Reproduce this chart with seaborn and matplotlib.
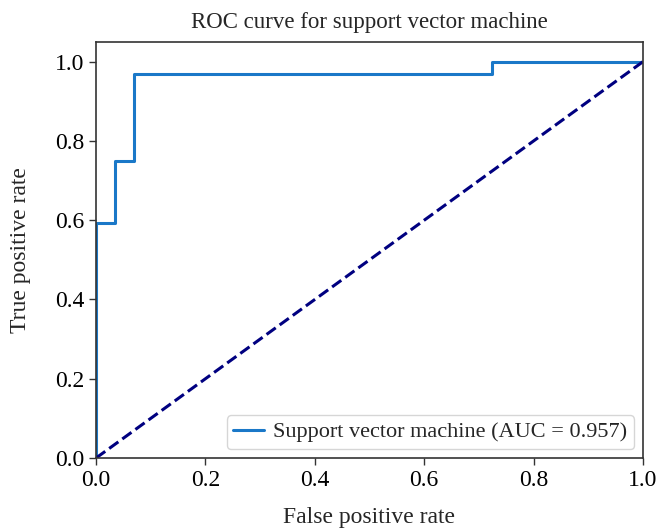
import matplotlib
matplotlib.use("Agg")
import matplotlib.pyplot as plt
import seaborn as sns
import pandas as pd

fpr = [0.0, 0.0, 0.034, 0.034, 0.069, 0.069, 0.724, 0.724, 1.0]
tpr = [0.0, 0.594, 0.594, 0.75, 0.75, 0.969, 0.969, 1.0, 1.0]
diag_x = [0.0, 1.0]
diag_y = [0.0, 1.0]
auc_value = 0.957
title = "ROC curve for support vector machine"
xlabel = "False positive rate"
ylabel = "True positive rate"

sns.set_style("ticks")
plt.rcParams['font.family'] = ['Liberation Serif', 'DejaVu Serif']

fig = plt.figure(figsize=(6.58, 5.31), dpi=100)
ax = fig.add_axes([0.146, 0.1375, 0.831, 0.7835])

roc_df = pd.DataFrame({"fpr": fpr, "tpr": tpr})
diag_df = pd.DataFrame({"x": diag_x, "y": diag_y})

sns.lineplot(data=roc_df, x="fpr", y="tpr", sort=False, estimator=None, ax=ax,
             color="#1a78c8", linewidth=2.2,
             label=f"Support vector machine (AUC = {auc_value:.3f})")
sns.lineplot(data=diag_df, x="x", y="y", sort=False, estimator=None, ax=ax,
             color="navy", linewidth=2.2, linestyle="--")

ax.set_xlim(0, 1)
ax.set_ylim(0, 1.05)
ax.set_xticks([0, 0.2, 0.4, 0.6, 0.8, 1.0])
ax.set_yticks([0, 0.2, 0.4, 0.6, 0.8, 1.0])
ax.tick_params(labelsize=17, length=5, width=1, colors="#333333", labelcolor="black")
for s in ax.spines.values():
    s.set_color("#333333")
    s.set_linewidth(1.2)
ax.set_title(title, fontsize=16.5, pad=10)
ax.set_xlabel(xlabel, fontsize=17, labelpad=12)
ax.set_ylabel(ylabel, fontsize=17, labelpad=17)

handles, labels = ax.get_legend_handles_labels()
ax.legend(handles[:1], labels[:1], loc="lower right", fontsize=16, frameon=True,
          handlelength=1.4, handletextpad=0.4, borderpad=0.3,
          borderaxespad=0.4, fancybox=True)

fig.savefig("out.png", dpi=100)
